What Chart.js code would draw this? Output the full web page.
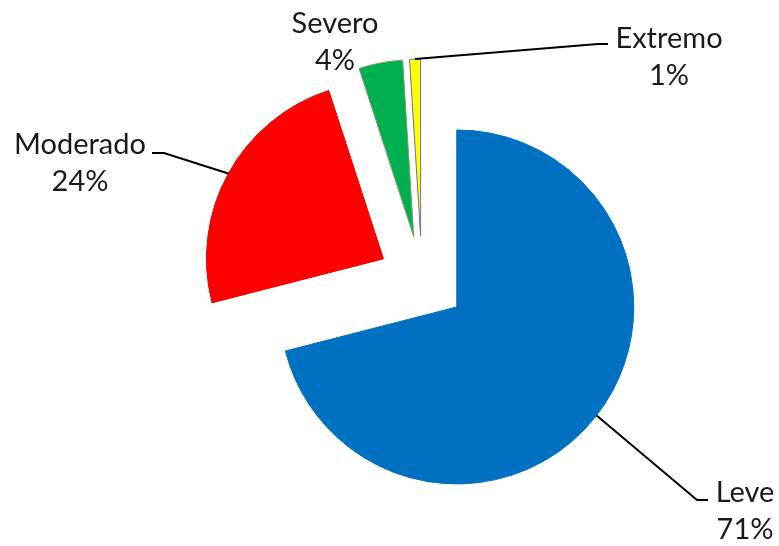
<!DOCTYPE html>
<html>
<head>
<meta charset="utf-8">
<script src="https://cdn.jsdelivr.net/npm/chart.js@4"></script>
<style>
  body { margin: 0; background: #fff; }
  canvas { display: block; }
</style>
</head>
<body>
<canvas id="grafico" width="779" height="546"></canvas>
<script>
// ==========================
// DADOS
// ==========================
const categorias = ["Leve", "Moderado", "Severo", "Extremo"];
const valores = [71, 24, 4, 1];
const rotulosPct = ["71%", "24%", "4%", "1%"];
const cores = ["#0070c0", "#ff0000", "#00b050", "#ffff00"];
const bordas = ["#0070c0", "#e00000", "#7f9a6a", "#7868b0"];

// explosao de cada fatia (px)
const EXPLODIR = 44;

// label layout: text center, elbow and end of leader line
const rotuloLayout = [
  { tx: 745, ty: 493, elbow: [697, 500], end: [708, 500] },
  { tx: 80, ty: 145, elbow: [164, 153], end: [152, 153] },
  { tx: 335, ty: 24, elbow: null, end: null },
  { tx: 669, ty: 39, elbow: [598, 44], end: [608, 44] },
];

// ==========================
// FATIAS EXPLODIDAS
// ==========================
// Chart.js offset also grows the radius, so every arc is moved by hand
const explodirPlugin = {
  id: "explodir",
  beforeDatasetDraw(chart, args) {
    const ctx = chart.ctx;
    args.meta.data.forEach((arc) => {
      const mid = (arc.startAngle + arc.endAngle) / 2;
      ctx.save();
      ctx.translate(Math.cos(mid) * EXPLODIR, Math.sin(mid) * EXPLODIR);
      arc.draw(ctx);
      ctx.restore();
    });
    return false;
  },
};

// ==========================
// ROTULOS
// ==========================
const rotulosPlugin = {
  id: "rotulos",
  afterDraw(chart) {
    const ctx = chart.ctx;
    const meta = chart.getDatasetMeta(0);
    ctx.save();
    meta.data.forEach((arc, i) => {
      const mid = (arc.startAngle + arc.endAngle) / 2;
      const r = arc.outerRadius + EXPLODIR;
      const ax = arc.x + Math.cos(mid) * r;
      const ay = arc.y + Math.sin(mid) * r;
      const L = rotuloLayout[i];

      if (L.elbow) {
        ctx.beginPath();
        ctx.strokeStyle = "#000";
        ctx.lineWidth = 2;
        ctx.moveTo(ax, ay);
        ctx.lineTo(L.elbow[0], L.elbow[1]);
        ctx.lineTo(L.end[0], L.end[1]);
        ctx.stroke();
      }

      ctx.fillStyle = "#1a1a1a";
      ctx.font = "29px Lato";
      ctx.textAlign = "center";
      ctx.textBaseline = "middle";
      ctx.fillText(categorias[i], L.tx, L.ty);
      ctx.fillText(rotulosPct[i], L.tx, L.ty + 37);
    });
    ctx.restore();
  },
};

// ==========================
// GRAFICO
// ==========================
function iniciarGrafico() {
  const ctx = document.getElementById("grafico").getContext("2d");
  new Chart(ctx, {
    type: "pie",
    data: {
      labels: categorias,
      datasets: [
        {
          data: valores,
          backgroundColor: cores,
          borderColor: bordas,
          borderWidth: 1,
          hoverOffset: 0,
        },
      ],
    },
    options: {
      responsive: false,
      animation: false,
      radius: 177,
      layout: { padding: { left: 65, right: 0, top: 14, bottom: 0 } },
      plugins: {
        legend: { display: false },
        tooltip: { enabled: false },
      },
      events: [],
    },
    plugins: [explodirPlugin, rotulosPlugin],
  });
}

window.onload = function () {
  iniciarGrafico();
};
</script>
</body>
</html>
